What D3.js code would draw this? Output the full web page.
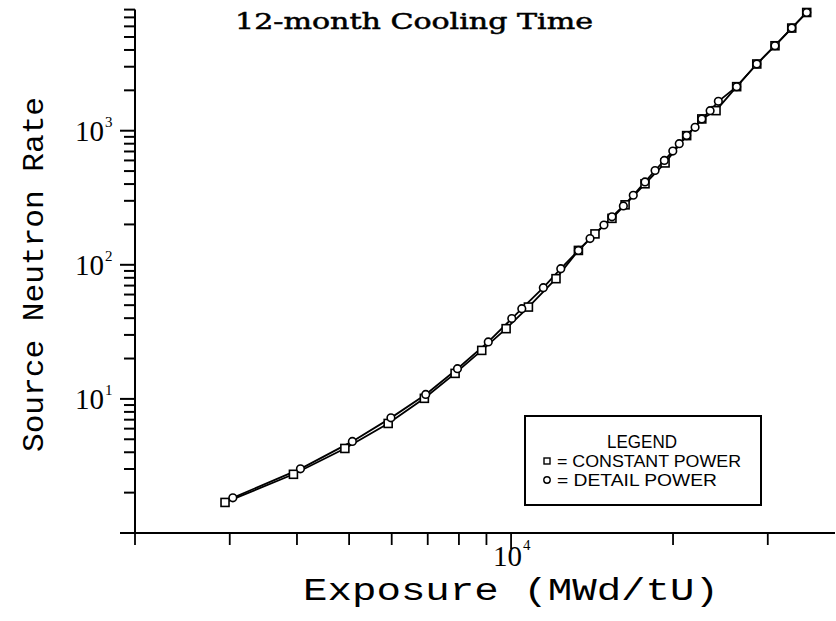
<!DOCTYPE html>
<html>
<head>
<meta charset="utf-8">
<script src="https://cdn.jsdelivr.net/npm/d3@7"></script>
<style>
  body { margin: 0; background: #fff; }
</style>
</head>
<body>
<div id="plot"></div>
<script>
//
// 12-month cooling time: source neutron rate vs exposure (log-log)
//

////////////////////////////////////////////////////////////////////////
// Data

// constant power run (square markers)
let constantExposure = [2940, 3940, 4910, 5910, 6900, 7870, 8820, 9790, 10770, 12120,
  13340, 14320, 15400, 16290, 17740, 19330, 21200, 22620, 24040, 26260,
  28620, 30940, 33240, 35440];
let constantRate = [1.69, 2.74, 4.27, 6.56, 10.1, 15.5, 23.0, 33.4, 48.4, 78.8,
  128, 170, 222, 280, 402, 575, 919, 1224, 1411, 2130,
  3144, 4301, 5827, 7612];

// detail power run (circle markers)
let detailExposure = [3040, 4060, 5070, 5980, 6940, 7950, 9070, 10030, 10470, 11480,
  12370, 13340, 14020, 14880, 15400, 16170, 16870, 17740, 18520, 19270,
  19980, 20540, 21200, 21980, 22620, 23440, 24280, 26260, 28620, 30940,
  33240, 35440];
let detailRate = [1.83, 3.01, 4.82, 7.22, 10.8, 16.8, 26.6, 39.7, 47.1, 67.5,
  93.5, 128, 157, 198, 228, 275, 330, 415, 505, 600,
  705, 800, 919, 1060, 1224, 1411, 1656, 2130, 3144, 4301,
  5827, 7612];

// labelled decades on each axis
let yLabelExps = [1, 2, 3];
let xLabelExps = [4];

let titleText = "12-month Cooling Time";
let xTitle = "Exposure (MWd/tU)";
let yTitle = "Source Neutron Rate";
let legendTitle = "LEGEND";
let legendNames = ["= CONSTANT POWER", "= DETAIL POWER"];

////////////////////////////////////////////////////////////////////////
// Canvas and scales
let width = 836;
let height = 621;

let svg = d3.select("#plot")
  .append("svg")
  .attr("width", width).attr("height", height);

let x = d3.scaleLog().domain([2000, 40000]).range([135, 835]);
let y = d3.scaleLog().domain([1, 8000]).range([533, 9.6]);

let x0 = x.range()[0];
let y0 = y.range()[0];

let isDecade = v => Math.abs(Math.log10(v) - Math.round(Math.log10(v))) < 1e-9;

////////////////////////////////////////////////////////////////////////
// Axes: spine lines plus log ticks (longer at each decade)
let yTicks = y.ticks();
let xTicks = x.ticks().filter(v => v < 40000);

svg.append("line")
  .attr("x1", x0).attr("x2", x0)
  .attr("y1", y(1)).attr("y2", y(8000))
  .attr("stroke", "#000").attr("stroke-width", 2);
svg.append("line")
  .attr("x1", x(2000)).attr("x2", x(40000))
  .attr("y1", y0).attr("y2", y0)
  .attr("stroke", "#000").attr("stroke-width", 2);

svg.append("g")
  .attr("class", "ytick")
  .selectAll("line")
  .data(yTicks)
  .enter()
  .append("line")
  .attr("x1", x0)
  .attr("x2", d => x0 - (isDecade(d) ? 15 : 11))
  .attr("y1", d => y(d)).attr("y2", d => y(d))
  .attr("stroke", "#000").attr("stroke-width", 2);

svg.append("g")
  .attr("class", "xtick")
  .selectAll("line")
  .data(xTicks)
  .enter()
  .append("line")
  .attr("x1", d => x(d)).attr("x2", d => x(d))
  .attr("y1", y0)
  .attr("y2", d => y0 + (isDecade(d) ? 16 : 12))
  .attr("stroke", "#000").attr("stroke-width", 1.8);

// power-of-ten labels
let serif = "'Liberation Serif', 'DejaVu Serif', serif";
yLabelExps.forEach(function (e) {
  let py = y(Math.pow(10, e));
  svg.append("text").attr("x", 104).attr("y", py + 10)
    .attr("text-anchor", "end").attr("font-family", serif).attr("font-size", 29)
    .text("10");
  svg.append("text").attr("x", 105).attr("y", py - 4)
    .attr("font-family", serif).attr("font-size", 15)
    .text(e);
});
xLabelExps.forEach(function (e) {
  let px = x(Math.pow(10, e));
  svg.append("text").attr("x", px + 11).attr("y", 566)
    .attr("text-anchor", "end").attr("font-family", serif).attr("font-size", 29)
    .text("10");
  svg.append("text").attr("x", px + 12).attr("y", 550)
    .attr("font-family", serif).attr("font-size", 15)
    .text(e);
});

////////////////////////////////////////////////////////////////////////
// Titles
let mono = "'Liberation Mono', 'DejaVu Sans Mono', monospace";

svg.append("text")
  .attr("x", 235).attr("y", 29)
  .attr("font-family", "'DejaVu Serif', serif").attr("font-size", 22)
  .attr("stroke", "#000").attr("stroke-width", 0.5)
  .attr("textLength", 358).attr("lengthAdjust", "spacingAndGlyphs")
  .text(titleText);

svg.append("text")
  .attr("x", 303).attr("y", 600)
  .attr("font-family", mono).attr("font-size", 31)
  .attr("textLength", 416).attr("lengthAdjust", "spacingAndGlyphs")
  .text(xTitle);

svg.append("text")
  .attr("transform", "translate(43,452) rotate(-90)")
  .attr("font-family", mono).attr("font-size", 30)
  .attr("textLength", 355).attr("lengthAdjust", "spacingAndGlyphs")
  .text(yTitle);

////////////////////////////////////////////////////////////////////////
// Curves and markers
let constantPts = constantExposure.map((v, i) => [v, constantRate[i]]);
let detailPts = detailExposure.map((v, i) => [v, detailRate[i]]);

let line = d3.line().x(d => x(d[0])).y(d => y(d[1]));

[constantPts, detailPts].forEach(function (pts) {
  svg.append("path")
    .datum(pts)
    .attr("d", line)
    .attr("fill", "none")
    .attr("stroke", "#000")
    .attr("stroke-width", 1.8);
});

svg.append("g")
  .selectAll("rect")
  .data(constantPts)
  .enter()
  .append("rect")
  .attr("x", d => x(d[0]) - 4)
  .attr("y", d => y(d[1]) - 4)
  .attr("width", 8).attr("height", 8)
  .attr("fill", "#fff").attr("stroke", "#000").attr("stroke-width", 1.6);

svg.append("g")
  .selectAll("circle")
  .data(detailPts)
  .enter()
  .append("circle")
  .attr("cx", d => x(d[0]))
  .attr("cy", d => y(d[1]))
  .attr("r", 3.8)
  .attr("fill", "#fff").attr("stroke", "#000").attr("stroke-width", 1.6);

////////////////////////////////////////////////////////////////////////
// Legend box
let sans = "'Liberation Sans', Arial, sans-serif";
let legend = svg.append("g");

legend.append("rect")
  .attr("x", 525).attr("y", 416).attr("width", 236).attr("height", 89)
  .attr("fill", "#fff").attr("stroke", "#000").attr("stroke-width", 2);

legend.append("text")
  .attr("x", 607).attr("y", 448)
  .attr("font-family", sans).attr("font-size", 18)
  .attr("textLength", 70).attr("lengthAdjust", "spacingAndGlyphs")
  .text(legendTitle);

legend.append("rect")
  .attr("x", 544).attr("y", 458).attr("width", 6).attr("height", 6)
  .attr("fill", "#fff").attr("stroke", "#000").attr("stroke-width", 1.4);
legend.append("circle")
  .attr("cx", 547).attr("cy", 480).attr("r", 3.2)
  .attr("fill", "#fff").attr("stroke", "#000").attr("stroke-width", 1.4);

legendNames.forEach(function (name, i) {
  legend.append("text")
    .attr("x", 557).attr("y", 467 + i * 19)
    .attr("font-family", sans).attr("font-size", 17)
    .attr("textLength", i == 0 ? 184 : 160).attr("lengthAdjust", "spacingAndGlyphs")
    .text(name);
});
</script>
</body>
</html>
